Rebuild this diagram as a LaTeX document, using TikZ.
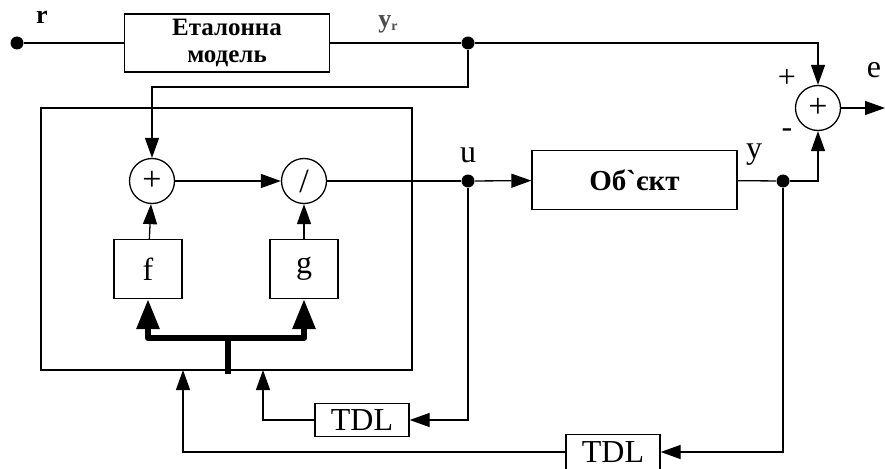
\documentclass[tikz,border=0pt]{standalone}
\usepackage{fontspec}
\setmainfont{Liberation Serif}
\newfontfamily\nolig[Ligatures=ResetAll]{Liberation Serif}
\usetikzlibrary{arrows.meta}
\begin{document}
\begin{tikzpicture}[x=1pt,y=-1pt,
  every path/.style={line width=1.3pt},
  blk/.style={draw,line width=1.3pt,inner sep=0pt,align=center},
  sumc/.style={draw,circle,line width=1.3pt,minimum size=45pt,inner sep=0pt,font=\fontsize{34}{34}\selectfont},
  arr/.style={-{Triangle[length=20pt,width=14pt]}},
  bigarr/.style={-{Triangle[length=30pt,width=22pt]},line width=6pt,line join=round},
  dot/.style={circle,fill,inner sep=0pt,minimum size=13pt},
  lbl/.style={font=\fontsize{32}{32}\selectfont}
]
\useasboundingbox (0,0) rectangle (885,468);
% nodes
\node[dot] (rdot) at (17,43) {};
\node[font=\fontsize{26}{26}\selectfont\bfseries] (rl) at (42,17) {r};
\node[blk,minimum width=205pt,minimum height=58pt,font=\fontsize{25}{27}\selectfont\bfseries] (ref) at (227,43) {Еталонна\\модель};
\node[dot] (j1) at (468,43) {};
\node[font=\fontsize{26}{26}\selectfont\bfseries,text=black!70] (yrl) at (388,24) {y\raisebox{-3pt}{\fontsize{14}{14}\selectfont r}};
\coordinate (k1) at (468,87);
\node[blk,minimum width=371pt,minimum height=262pt] (ctrl) at (226.5,239) {};
\node[sumc] (sum1) at (152,181) {+};
\node[sumc] (div) at (304,181) {/};
\node[blk,minimum width=68pt,minimum height=59pt,font=\fontsize{32}{32}\selectfont] (f) at (148,269) {f};
\node[blk,minimum width=68pt,minimum height=59pt,font=\fontsize{32}{32}\selectfont] (g) at (304,269) {g};
\node[dot] (ju) at (468,181) {};
\node[lbl] (ul) at (468,155) {u};
\node[blk,minimum width=205pt,minimum height=59pt,font=\nolig\fontsize{29}{29}\selectfont\bfseries] (obj) at (634.5,180) {Об`єкт};
\node[dot] (jy) at (783,181) {};
\node[lbl] (yl) at (754,155) {y};
\node[sumc] (sum2) at (818,108) {+};
\node[lbl] (pl) at (787,78) {+};
\node[lbl] (ml) at (787,133) {-};
\node[lbl] (el) at (874,70) {e};
\coordinate (eout) at (885,108);
\node[blk,minimum width=94pt,minimum height=33pt,font=\fontsize{32}{32}\selectfont] (tdl1) at (362,420) {TDL};
\node[blk,minimum width=94pt,minimum height=35pt,font=\fontsize{32}{32}\selectfont] (tdl2) at (613,452) {TDL};
\coordinate (in1) at (263,370);
\coordinate (in2) at (183,370);
\coordinate (busb) at (228,374);
\coordinate (busc) at (228,338);
% connectors
\draw (rdot) -- (ref);
\draw (ref) -- (j1);
\draw[arr] (j1) -| (sum2);
\draw[arr] (j1) -- (k1) -| (sum1);
\draw[arr] (sum1) -- (div);
\draw (div) -- (ju);
\draw[arr] (ju) -- (obj);
\draw (obj) -- (jy);
\draw[arr] (jy) -| (sum2);
\draw[arr] (sum2) -- (eout);
\draw[arr] (f) -- (sum1);
\draw[arr] (g) -- (div);
\draw[line width=6pt] (busb) -- (busc);
\draw[bigarr] (busc) -| (f);
\draw[bigarr] (busc) -| (g);
\draw[arr] (ju) |- (tdl1);
\draw[arr] (tdl1) -| (in1);
\draw[arr] (jy) |- (tdl2);
\draw[arr] (tdl2) -| (in2);
\end{tikzpicture}
\end{document}
